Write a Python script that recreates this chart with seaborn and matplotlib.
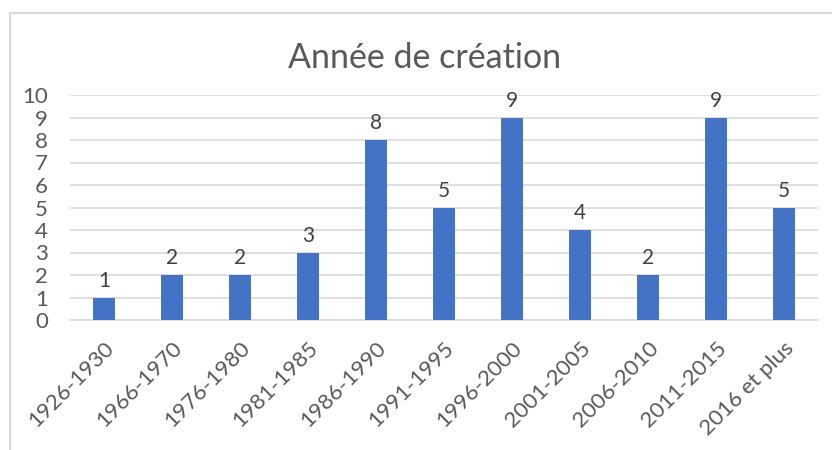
import matplotlib
matplotlib.use("Agg")
import matplotlib.pyplot as plt
import seaborn as sns
import pandas as pd
from matplotlib.patches import Rectangle

# Chart data
periodes = ['1926-1930', '1966-1970', '1976-1980', '1981-1985', '1986-1990',
            '1991-1995', '1996-2000', '2001-2005', '2006-2010', '2011-2015',
            '2016 et plus']
nombres = [1, 2, 2, 3, 8, 5, 9, 4, 2, 9, 5]
y_ticks = list(range(0, 11))

df = pd.DataFrame({'Période': periodes, 'Nombre': nombres})

sns.set_theme(style='white')
plt.rcParams['font.family'] = ['Lato', 'DejaVu Sans']

text_col = '#595959'
grid_col = '#d9d9d9'

fig = plt.figure(figsize=(8.32, 4.5), dpi=100)
ax = fig.add_axes([70 / 832, 1 - 320 / 450, (818 - 70) / 832, (320 - 95) / 450])

sns.barplot(data=df, x='Période', y='Nombre', color='#4472C4', width=0.32,
            saturation=1, linewidth=0, ax=ax, zorder=3)

# Data labels above bars
for cont in ax.containers:
    ax.bar_label(cont, padding=5, fontsize=15, color='#404040')

ax.set_ylim(0, 10)
ax.set_xlim(-0.5, len(periodes) - 0.5)
ax.set_yticks(y_ticks)
ax.yaxis.grid(True, color=grid_col, linewidth=1.2, zorder=0)
ax.set_axisbelow(True)
for side in ['top', 'right', 'left']:
    ax.spines[side].set_visible(False)
ax.spines['bottom'].set_color(grid_col)
ax.spines['bottom'].set_linewidth(1.2)
ax.tick_params(axis='both', length=0, labelsize=16, colors=text_col)
ax.tick_params(axis='y', pad=16)
ax.set_xlabel('')
ax.set_ylabel('')
plt.setp(ax.get_xticklabels(), rotation=45, ha='right', rotation_mode='anchor')
ax.tick_params(axis='x', pad=13)
for lab in ax.get_yticklabels():
    lab.set_horizontalalignment('right')

fig.text(425 / 832, 1 - 58 / 450, 'Année de création', ha='center', va='center',
         fontsize=24.5, color=text_col)

# Chart frame (cropped on the right and bottom)
fig.patches.append(Rectangle((10 / 832, -0.05), 1.1, 1 - 13 / 450 + 0.05,
                             transform=fig.transFigure, fill=False,
                             edgecolor=grid_col, linewidth=1.5))

fig.savefig('out.png', dpi=100)
